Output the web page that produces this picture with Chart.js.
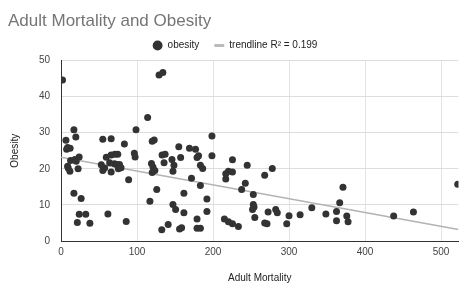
<!DOCTYPE html>
<html>
<head>
<meta charset="utf-8">
<script src="https://cdn.jsdelivr.net/npm/chart.js@4"></script>
<style>
html,body{margin:0;padding:0;background:#fff;}
canvas{display:block;}
</style>
</head>
<body>
<canvas id="c" width="462" height="285"></canvas>
<script>
const chartTitle = 'Adult Mortality and Obesity';
const xTitle = 'Adult Mortality';
const yTitle = 'Obesity';
const seriesName = 'obesity';
const trendName = 'trendline R\u00B2 = 0.199';

const mortality = [
  2, 17, 19.5, 6.5, 8.7, 12, 7.4, 23.9, 18.3, 12.6, 8.7, 11.7, 22.5, 17, 26.5, 24, 32.6, 21.5, 38,
  55, 66, 83.4, 98.7, 114, 96.5, 97.5, 59.6, 66, 71, 74.7, 53, 64, 70.4, 73.4, 77, 79, 55, 57.4, 66,
  75.5, 89, 61.7, 85.8, 20, 9.5,
  129, 134, 120, 122.6, 119, 121, 123.5, 120, 117, 126, 133, 137, 135.6, 146, 148.6, 147.3, 155,
  157.4, 169, 177, 179, 181, 183.4, 186.4, 198.6, 198.6, 171.7, 183.4, 161.7, 147.3, 150.8, 161.7,
  192, 192, 179, 132.6, 141, 156, 158.7, 179, 183.4, 215, 220.3, 225.6, 233.4, 216.8, 220.3, 225.6,
  216.8, 225.6, 245, 242.5, 237.7, 253,
  253, 254, 252, 255, 268, 278, 272.5, 282.5, 284.6, 268, 271, 300, 297, 314.6, 330, 348.5, 362.5,
  366.7, 371, 362.5, 376, 377.7, 437.7, 463.7, 522
];
const obesity = [
  44.6, 30.8, 28.8, 27.9, 25.9, 25.7, 25.4, 23.3, 22.6, 22.3, 20.7, 19.3, 20, 13.2, 11.8, 7.4, 7.4, 5.1, 4.9,
  28.2, 28.3, 26.9, 30.8, 34.2, 24.3, 23.3, 23.2, 23.8, 24, 24, 21.1, 21.7, 21.4, 21.2, 21.2, 20.3, 19.5, 20.2, 19.1,
  20, 17, 7.5, 5.4, 22.1, 20.2,
  46, 46.7, 27.6, 28, 21.5, 20.5, 19.5, 19, 11, 14.3, 23.8, 24, 21.7, 22.6, 21, 19.3, 26.1,
  23.1, 25.7, 25.4, 23.1, 23.6, 21, 20.1, 29.1, 23.6, 17.4, 15.4, 13.2, 10.1, 8.7, 7.8,
  11.6, 8.2, 6.1, 3.1, 4.6, 3.3, 3.7, 3.5, 3.5, 6.1, 5.3, 4.8, 4, 18.6, 19.3, 19.1,
  17.2, 22.5, 21, 16, 14.3, 12.9,
  10.1, 9.4, 8.7, 6.5, 18.2, 20.1, 8, 8.7, 7.8, 5, 4.8, 7, 4.8, 7.3, 9.2, 7.5, 8.2,
  10.6, 14.9, 5.6, 6.9, 5.3, 6.9, 8, 15.7
];
const trendX = [0, 523];
const trendY = [23.2, 3.2];

const xTickValues = [0, 100, 200, 300, 400, 500];
const yTickValues = [0, 10, 20, 30, 40, 50];
const xMin = 0, xMax = 523;
const yMin = 0, yMax = 50;

const FONT = '"Liberation Sans", Arial, sans-serif';

const points = mortality.map((x, i) => ({x: x, y: obesity[i]}));
const trend = trendX.map((x, i) => ({x: x, y: trendY[i]}));

new Chart(document.getElementById('c'), {
  type: 'scatter',
  data: {
    datasets: [
      {
        label: seriesName,
        data: points,
        backgroundColor: '#333333',
        borderWidth: 0,
        pointRadius: 3.5,
        pointHoverRadius: 3.5,
        order: 1
      },
      {
        type: 'line',
        label: trendName,
        data: trend,
        borderColor: '#b3b3b3',
        borderWidth: 1.5,
        pointRadius: 0,
        fill: false,
        order: 2
      }
    ]
  },
  options: {
    responsive: false,
    animation: false,
    layout: { padding: { left: 8, right: 0, top: 0, bottom: 0 } },
    plugins: {
      tooltip: { enabled: false },
      title: {
        display: true,
        text: chartTitle,
        align: 'start',
        color: '#757575',
        font: { family: FONT, size: 17, weight: 'normal', lineHeight: '9px' },
        padding: { top: 16.5, bottom: 0 }
      },
      legend: {
        display: true,
        position: 'top',
        align: 'center',
        maxHeight: 39.5,
        labels: {
          usePointStyle: true,
          boxWidth: 10,
          boxHeight: 7,
          padding: 15,
          color: '#222222',
          font: { family: FONT, size: 10 },
          generateLabels: () => [
            { text: seriesName, pointStyle: 'circle', fillStyle: '#333333', strokeStyle: '#333333', lineWidth: 0, hidden: false, datasetIndex: 0, fontColor: '#222222' },
            { text: trendName, pointStyle: 'line', fillStyle: '#bbbbbb', strokeStyle: '#bbbbbb', lineWidth: 3, hidden: false, datasetIndex: 1, fontColor: '#222222' }
          ]
        }
      }
    },
    scales: {
      x: {
        type: 'linear',
        min: xMin,
        max: xMax,
        ticks: { padding: 5, color: '#444444', font: { family: FONT, size: 10 } },
        afterBuildTicks: s => { s.ticks = xTickValues.map(v => ({ value: v })); },
        afterFit: s => { s.height = 44; },
        grid: { color: '#e3e3e3', drawTicks: false },
        border: { color: '#333333', width: 1 },
        title: { display: true, text: xTitle, color: '#222222', font: { family: FONT, size: 10 }, padding: { top: 0, bottom: 1 } }
      },
      y: {
        type: 'linear',
        min: yMin,
        max: yMax,
        ticks: { padding: 11, color: '#444444', font: { family: FONT, size: 10 } },
        afterBuildTicks: s => { s.ticks = yTickValues.map(v => ({ value: v })); },
        afterFit: s => { s.width = 53; },
        grid: { color: '#dddddd', drawTicks: false },
        border: { color: '#333333', width: 1 },
        title: { display: true, text: yTitle, color: '#222222', font: { family: FONT, size: 10 }, padding: { top: 1, bottom: 0 } }
      }
    }
  }
});
</script>
</body>
</html>
